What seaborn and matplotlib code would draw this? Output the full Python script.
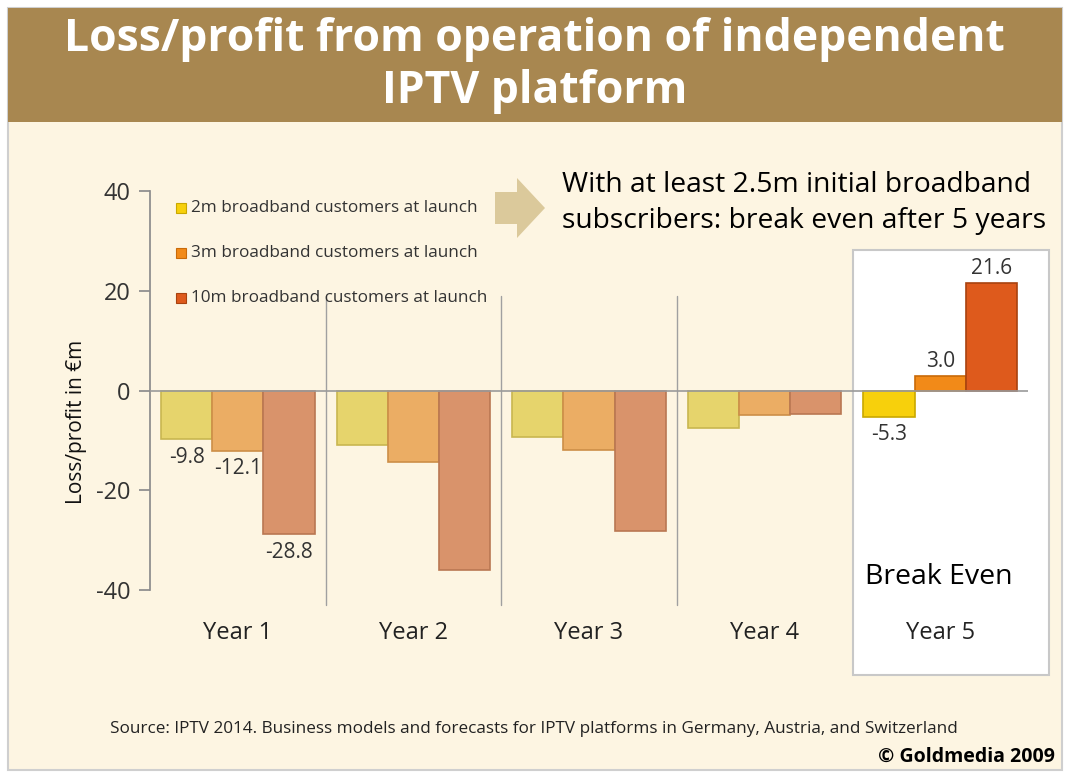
import numpy as np
import pandas as pd
import seaborn as sns
import matplotlib.pyplot as plt
from matplotlib.patches import Rectangle, FancyArrow

#### data ####
years = ["Year 1", "Year 2", "Year 3", "Year 4", "Year 5"]
series = ["2m broadband customers at launch",
          "3m broadband customers at launch",
          "10m broadband customers at launch"]
val_2m = [-9.8, -11.0, -9.3, -7.5, -5.3]
val_3m = [-12.1, -14.3, -12.0, -4.9, 3.0]
val_10m = [-28.8, -35.9, -28.1, -4.7, 21.6]
yticks = [-40, -20, 0, 20, 40]

# labels shown on the chart (year 1 and year 5 only)
labelled = {0: [-9.8, -12.1, -28.8], 4: [-5.3, 3.0, 21.6]}

df = pd.DataFrame({
    "year": years * 3,
    "series": [series[0]] * 5 + [series[1]] * 5 + [series[2]] * 5,
    "value": val_2m + val_3m + val_10m,
})

muted = ["#E6D46C", "#EBAD64", "#D9936B"]
vivid = ["#F7D00C", "#F28A18", "#DE5A1C"]
edge_m = ["#C9B650", "#CC8E48", "#B97752"]
edge_v = ["#C9A800", "#C96A08", "#A8420F"]
bg = "#FDF5E2"
band = "#A88750"

sns.set_theme(style="white")
plt.rcParams["font.family"] = ["Open Sans", "DejaVu Sans"]

fig = plt.figure(figsize=(10.69, 7.76), dpi=100)
fig.patch.set_facecolor("white")

# cream panel + title band
fig.add_artist(Rectangle((8 / 1069, 6 / 776), 1054 / 1069, 762 / 776, transform=fig.transFigure,
                         facecolor=bg, edgecolor="#CFCFCF", lw=1.5, zorder=0))
fig.add_artist(Rectangle((8 / 1069, 1 - 122 / 776), 1054 / 1069, 114 / 776, transform=fig.transFigure,
                         facecolor=band, edgecolor="none", zorder=1))
fig.text(0.5, 1 - 40 / 776, "Loss/profit from operation of independent", color="white",
         fontsize=32, fontweight="bold", ha="center", va="center", family="Open Sans")
fig.text(0.5, 1 - 92 / 776, "IPTV platform", color="white",
         fontsize=32, fontweight="bold", ha="center", va="center", family="Open Sans")

# white box behind year 5
fig.add_artist(Rectangle((853 / 1069, 1 - 675 / 776), 196 / 1069, 425 / 776, transform=fig.transFigure,
                         facecolor="white", edgecolor="#C8C8C8", lw=1.5, zorder=1))

ax = fig.add_axes([150 / 1069, 1 - 590 / 776, 878 / 1069, 399 / 776])
ax.set_facecolor("none")
ax.set_zorder(2)

sns.barplot(data=df, x="year", y="value", hue="series", palette=muted, width=0.875,
            ax=ax, legend=False, saturation=1)

# recolour bars; year 5 in vivid colours
for i, cont in enumerate(ax.containers):
    for j, bar in enumerate(cont):
        if j == 4:
            bar.set_facecolor(vivid[i])
            bar.set_edgecolor(edge_v[i])
        else:
            bar.set_edgecolor(edge_m[i])
        bar.set_linewidth(1.2)

# value labels
for j, vals in labelled.items():
    for i, v in enumerate(vals):
        bar = ax.containers[i][j]
        x = bar.get_x() + bar.get_width() / 2
        if v < 0:
            ax.text(x, v - 1.5, f"{v:.1f}", ha="center", va="top", fontsize=15, color="#333333")
        else:
            ax.text(x, v + 0.8, f"{v:.1f}", ha="center", va="bottom", fontsize=15, color="#333333")

ax.set_ylim(-40, 40)
ax.set_xlim(-0.5, 4.5)
ax.set_yticks(yticks)
ax.set_yticklabels([str(t) for t in yticks], fontsize=17, color="#333333")
ax.axhline(0, color="#9A9A9A", lw=1.2, zorder=3)
for b in [0.5, 1.5, 2.5]:
    ax.plot([b, b], [19, -43], color="#A0A0A0", lw=1, clip_on=False, zorder=1)

for s in ["top", "right", "bottom"]:
    ax.spines[s].set_visible(False)
ax.spines["left"].set_color("#8C8C8C")
ax.tick_params(axis="y", direction="out", length=8, color="#8C8C8C", left=True, pad=6)
ax.tick_params(axis="x", length=0, pad=22)
ax.set_xticks(range(5))
ax.set_xticklabels(years, fontsize=17, color="#222222")
ax.set_xlabel("")
ax.set_ylabel("Loss/profit in €m", fontsize=15, color="#111111", labelpad=2)
ax.yaxis.set_label_coords(-0.072, 0.42)

# legend
for k, name in enumerate(series):
    yy = 1 - (208 + 45 * k) / 776
    fig.add_artist(Rectangle((176 / 1069, yy - 5 / 776), 10 / 1069, 10 / 776, transform=fig.transFigure,
                             facecolor=vivid[k], edgecolor=edge_v[k], lw=0.8, zorder=4))
    fig.text(191 / 1069, yy, name, fontsize=12.3, color="#333333", va="center", ha="left", zorder=4)

# arrow and headline
fig.add_artist(FancyArrow(495 / 1069, 1 - 208 / 776, 22 / 1069, 0, width=32 / 776, head_width=60 / 776,
                          head_length=28 / 1069, length_includes_head=False, transform=fig.transFigure,
                          color="#DBC99B", lw=0, zorder=4))
fig.text(562 / 1069, 1 - 185 / 776, "With at least 2.5m initial broadband", fontsize=20.3,
         color="black", va="center", ha="left")
fig.text(562 / 1069, 1 - 221 / 776, "subscribers: break even after 5 years", fontsize=20.3,
         color="black", va="center", ha="left")

fig.text(865 / 1069, 1 - 577 / 776, "Break Even", fontsize=20.5, color="black", va="center", ha="left",
         zorder=5)

fig.text(110 / 1069, 1 - 729 / 776,
         "Source: IPTV 2014. Business models and forecasts for IPTV platforms in Germany, Austria, and Switzerland",
         fontsize=12.3, color="#222222", va="center", ha="left")
fig.text(1055 / 1069, 1 - 757 / 776, "© Goldmedia 2009", fontsize=14, fontweight="bold",
         color="black", va="center", ha="right")

fig.savefig("out.png", dpi=100, facecolor=fig.get_facecolor())
